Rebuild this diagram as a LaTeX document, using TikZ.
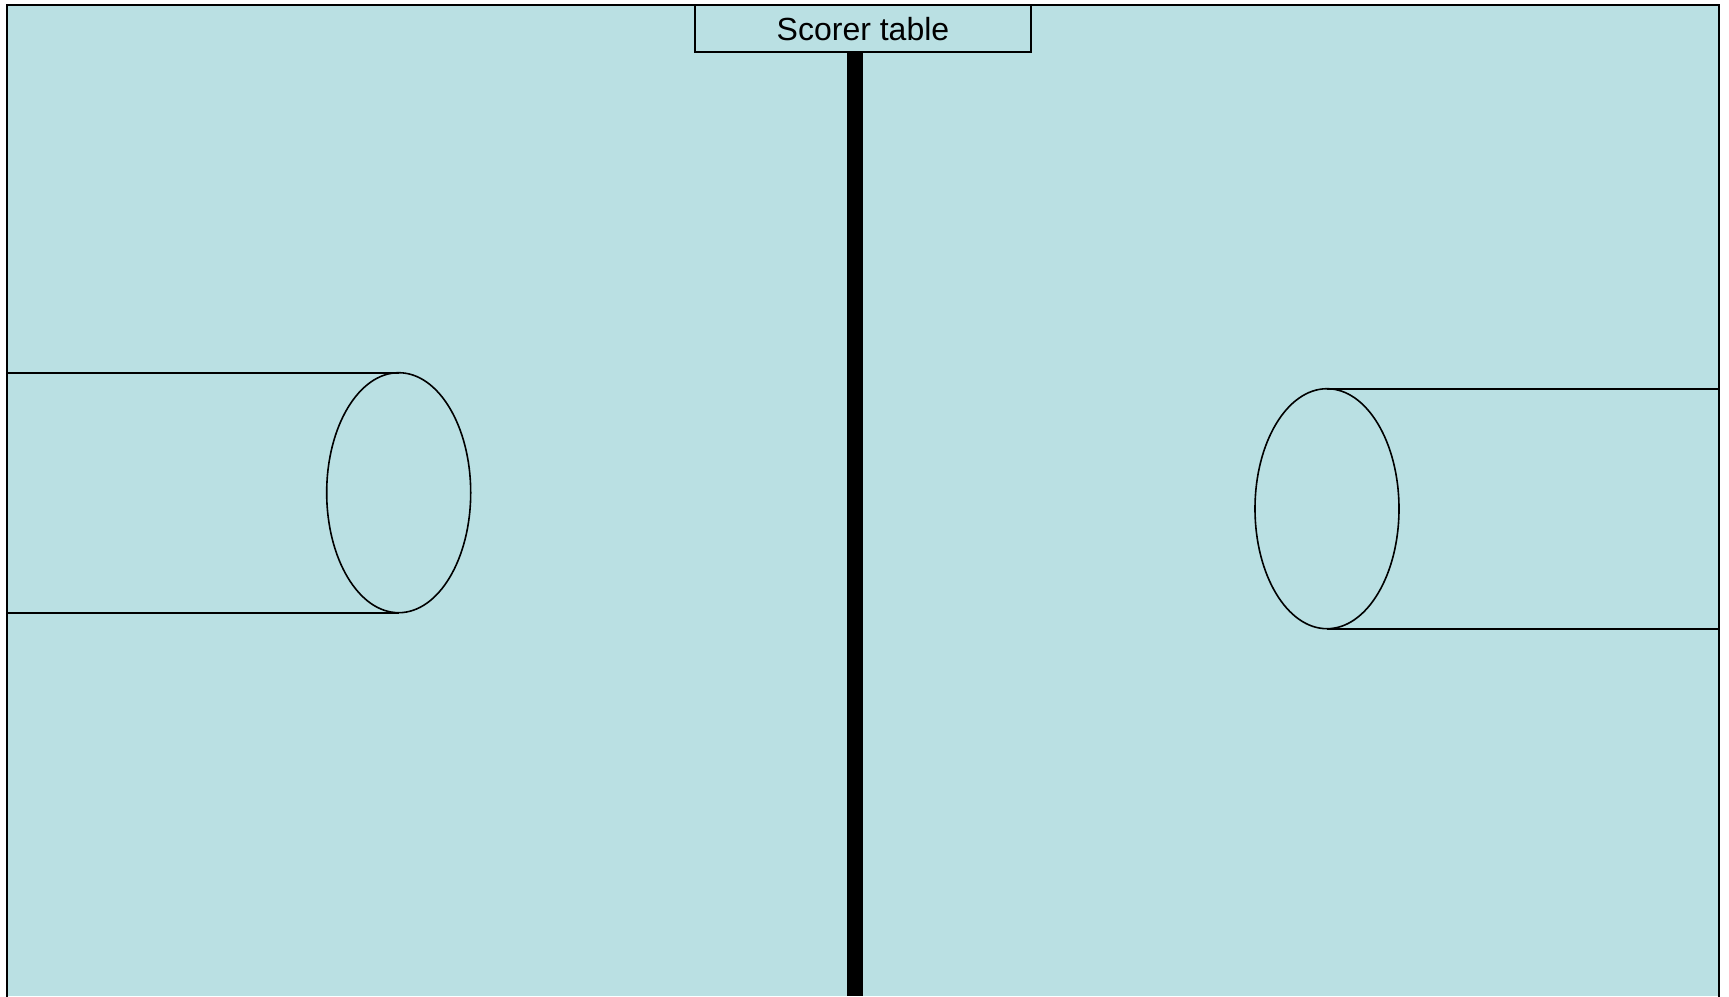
\documentclass[tikz,border=0pt]{standalone}
\usepackage{fontspec}
\setmainfont{Liberation Sans}
\usetikzlibrary{shapes.geometric}
\definecolor{court}{RGB}{186,224,227}
\tikzset{
  edge/.style={line width=1.8pt, line cap=rect},
  hoop/.style={ellipse, draw, line width=1.6pt, minimum width=144pt, minimum height=240pt, inner sep=0pt, outer sep=0pt},
  scorer/.style={draw, line width=1.8pt, minimum width=336pt, minimum height=47pt, inner sep=0pt, font=\fontsize{32}{36}\selectfont},
  thin/.style={line width=1.6pt}
}
\begin{document}
\begin{tikzpicture}[x=1pt,y=-1pt]
\useasboundingbox (0,0) rectangle (1729,996);
\fill[court] (7,5) rectangle (1719,996);
\coordinate (tl) at (7,5);
\coordinate (tr) at (1719,5);
\coordinate (bl) at (7,996);
\coordinate (br) at (1719,996);
\draw[edge] (bl) -- (tl) -- (tr) -- (br);
% scorer table
\node[scorer, text depth=0pt] (st) at (863,28.5) {\raisebox{-1.5pt}{Scorer table}};
% center line
\coordinate (bartop) at (855,52);
\coordinate (barbot) at (855,996);
\draw[line width=16pt] (bartop) -- (barbot);
% left key
\node[hoop] (lh) at (398.7,492.7) {};
\coordinate (lt) at (7,372.7);
\coordinate (lb) at (7,612.7);
\draw[thin] (lt) -- (lh.north);
\draw[thin] (lb) -- (lh.south);
% right key
\node[hoop] (rh) at (1327,508.7) {};
\coordinate (rt) at (1719,388.7);
\coordinate (rb) at (1719,628.7);
\draw[thin] (rh.north) -- (rt);
\draw[thin] (rh.south) -- (rb);
\end{tikzpicture}
\end{document}
